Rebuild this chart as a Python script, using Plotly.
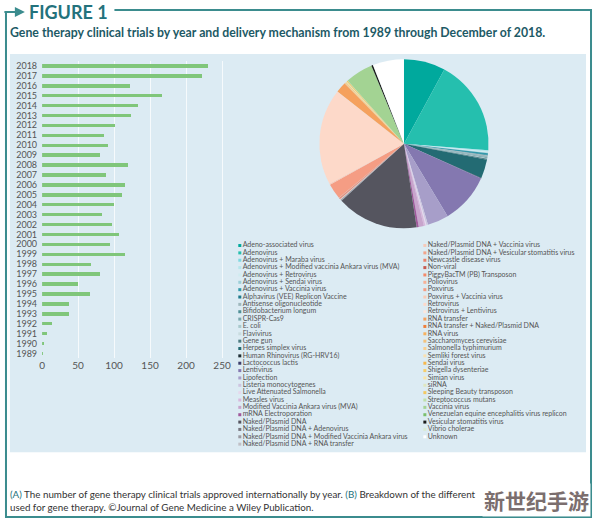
# plot.py  -  Figure 1: gene therapy clinical trials (bars by year + pie by vector)

import plotly.graph_objects as go

W, H = 594, 520

# --- data ---
YEARS = [str(y) for y in range(2018, 1988, -1)]
TRIALS = [230, 222, 122, 167, 134, 124, 101, 86, 91, 80,
          119, 89, 116, 111, 100, 84, 97, 107, 95, 116,
          68, 81, 50, 66, 37, 37, 14, 7, 2, 1]

VECTORS = [
    "Adeno-associated virus", "Adenovirus", "Adenovirus + Maraba virus",
    "Adenovirus + Modified vaccinia Ankara virus (MVA)", "Adenovirus + Retrovirus",
    "Adenovirus + Sendai virus", "Adenovirus + Vaccinia virus",
    "Alphavirus (VEE) Replicon Vaccine", "Antisense oligonucleotide",
    "Bifidobacterium longum", "CRISPR-Cas9", "E. coli", "Flavivirus", "Gene gun",
    "Herpes simplex virus", "Human Rhinovirus (RG-HRV16)", "Lactococcus lactis",
    "Lentivirus", "Lipofection", "Listeria monocytogenes", "Live Attenuated Salmonella",
    "Measles virus", "Modified Vaccinia Ankara virus (MVA)", "mRNA Electroporation",
    "Naked/Plasmid DNA", "Naked/Plasmid DNA + Adenovirus",
    "Naked/Plasmid DNA + Modified Vaccinia Ankara virus",
    "Naked/Plasmid DNA + RNA transfer",
    "Naked/Plasmid DNA + Vaccinia virus", "Naked/Plasmid DNA + Vesicular stomatitis virus",
    "Newcastle disease virus", "Non-viral", "PiggyBacTM (PB) Transposon", "Poliovirus",
    "Poxvirus", "Poxvirus + Vaccinia virus", "Retrovirus", "Retrovirus + Lentivirus",
    "RNA transfer", "RNA transfer + Naked/Plasmid DNA", "RNA virus",
    "Saccharomyces cerevisiae", "Salmonella typhimurium", "Semliki forest virus",
    "Sendai virus", "Shigella dysenteriae", "Simian virus", "siRNA",
    "Sleeping Beauty transposon", "Streptococcus mutans", "Vaccinia virus",
    "Venezuelan equine encephalitis virus replicon", "Vesicular stomatitis virus",
    "Vibrio cholerae", "Unknown",
]
SHARE = [8.0, 18.5, 0.1, 0.2, 0.2, 0.1, 0.3, 0.1, 0.3, 0.05, 0.2, 0.05, 0.05, 0.2,
         3.6, 0.05, 0.1, 9.7, 4.1, 0.3, 0.2, 0.3, 1.0, 0.4,
         15.8, 0.05, 0.2, 0.05, 0.1, 0.05, 0.1, 0.1, 0.05, 0.05,
         3.0, 0.2, 18.6, 0.05, 2.0, 0.05, 0.1, 0.05, 0.05, 0.05,
         0.1, 0.05, 0.05, 0.1, 0.2, 0.05, 5.3, 0.05, 0.3, 0.05, 6.0]

COLORS = [
    "#00a99d", "#25bfae", "#7fd8e0", "#b6e6ea", "#d0ecf0", "#9ccfd8", "#3399aa",
    "#1f7a8c", "#9fb8bd", "#4f8f96", "#7aa7ad", "#a9c9cc", "#c9dcdf", "#4e7b80",
    "#236b73", "#1e2e35", "#3d3f6b", "#8478b0", "#a79ec9", "#cdc5e0", "#e6d8ec",
    "#d8b7dc", "#c8a4cc", "#a0589b",
    "#55555f", "#777780", "#9a9aa2", "#c0c0c6", "#f6c9b8", "#f1a48a", "#e9826b",
    "#c85a50", "#f48a6a", "#f7b196", "#f59d84", "#fbc9b5", "#fdd9c9", "#fde7dc",
    "#f5a15d", "#f07f3a", "#f7b25f", "#f4c27c", "#f9cf8f", "#fbe0b0", "#f6b84d",
    "#f7cd6a", "#fbe3a3", "#e0e6c0", "#f3c860", "#bfe0a8", "#a3d393", "#7bbf6c",
    "#1a1a1a", "#d9ebd5", "#ffffff",
]

TEAL = "#23727c"
TEXT = "#555555"
FONT = "Lato"


def px(x):
    return x / W


def py(y):
    return 1 - y / H


fig = go.Figure()

# A: trials per year
fig.add_trace(go.Bar(
    x=TRIALS, y=YEARS, orientation="h", width=0.35,
    marker=dict(color="#80c67a", line=dict(width=0)),
    xaxis="x", yaxis="y", showlegend=False,
))

# B: delivery mechanism
fig.add_trace(go.Pie(
    labels=VECTORS, values=SHARE, sort=False, direction="clockwise",
    marker=dict(colors=COLORS, line=dict(width=0)),
    textinfo="none", showlegend=False,
    domain=dict(x=[px(318), px(488)], y=[py(228), py(58)]),
))

# legend of B, two columns
n_left = 28
cols = [VECTORS[:n_left], VECTORS[n_left:]]
col_colors = [COLORS[:n_left], COLORS[n_left:]]
for ci, (labels, cc) in enumerate(zip(cols, col_colors)):
    fig.add_trace(go.Scatter(
        x=[ci] * len(labels), y=list(range(len(labels))),
        mode="markers+text", text=labels, textposition="middle right",
        textfont=dict(family=FONT, size=7, color=TEXT),
        marker=dict(symbol="square", size=3, color=cc),
        cliponaxis=False,
        xaxis="x2", yaxis="y2", showlegend=False, hoverinfo="text",
    ))

shapes = [
    # light blue panel
    dict(type="rect", xref="paper", yref="paper", layer="below",
         x0=px(7), x1=px(586), y0=py(452), y1=py(53),
         fillcolor="#dcebf3", line=dict(width=0)),
    # frame
    dict(type="path", xref="paper", yref="paper",
         path=f"M {px(112)},{py(9)} L {px(591)},{py(9)} L {px(591)},{py(517)} "
              f"L {px(3)},{py(517)} L {px(3)},{py(11)}",
         line=dict(color="#3b8c8e", width=2)),
]

annotations = [
    dict(x=px(22), y=py(11), ax=-22, ay=0, xref="paper", yref="paper",
         text="", showarrow=True, arrowhead=2, arrowsize=1, arrowwidth=2,
         arrowcolor="#3b8c8e"),
    dict(x=px(24), y=py(11), xref="paper", yref="paper", xanchor="left",
         yanchor="middle", showarrow=False, text="<b>FIGURE 1</b>",
         font=dict(family=FONT, size=18, color=TEAL)),
    dict(x=px(5), y=py(32), xref="paper", yref="paper", xanchor="left",
         yanchor="middle", showarrow=False,
         text="<b>Gene therapy clinical trials by year and delivery mechanism "
              "from 1989 through December of 2018.</b>",
         font=dict(family=FONT, size=12.3, color="#1d5a66")),
    dict(x=px(5), y=py(494), xref="paper", yref="paper", xanchor="left",
         yanchor="middle", showarrow=False,
         text=f"<span style='color:{TEAL}'>(A)</span> The number of gene therapy "
              "clinical trials approved internationally by year. "
              f"<span style='color:{TEAL}'>(B)</span> Breakdown of the different",
         font=dict(family=FONT, size=9.8, color="#333333")),
    dict(x=px(5), y=py(507), xref="paper", yref="paper", xanchor="left",
         yanchor="middle", showarrow=False,
         text="used for gene therapy. \u00a9Journal of Gene Medicine a Wiley Publication.",
         font=dict(family=FONT, size=9.8, color="#333333")),
    dict(x=px(536), y=py(500), xref="paper", yref="paper", xanchor="center",
         yanchor="middle", showarrow=False, text="<b>新世纪手游</b>",
         font=dict(family="Noto Sans CJK SC", size=21, color="#7b6e6e"),
         bgcolor="rgba(255,255,255,0.9)"),
]

fig.update_layout(
    width=W, height=H,
    margin=dict(l=0, r=0, t=0, b=0),
    paper_bgcolor="white", plot_bgcolor="rgba(0,0,0,0)",
    font=dict(family=FONT, color=TEXT),
    bargap=0,
    shapes=shapes, annotations=annotations,
    xaxis=dict(domain=[px(39.3), px(231)], range=[0, 265], tickvals=[0, 50, 100, 150, 200, 250],
               showgrid=True, gridcolor="rgba(255,255,255,0.75)", gridwidth=1,
               zeroline=False, showline=False, ticks="",
               tickfont=dict(family=FONT, size=10, color=TEXT), anchor="y"),
    yaxis=dict(domain=[py(358), py(60)], type="category", autorange="reversed",
               tickmode="array", tickvals=YEARS, ticktext=YEARS,
               showgrid=False, zeroline=False, showline=False, ticks="",
               ticklabelstandoff=4,
               tickfont=dict(family=FONT, size=9, color=TEXT), anchor="x"),
    xaxis2=dict(domain=[px(238), px(424)], range=[0, 1], visible=False, anchor="y2"),
    yaxis2=dict(domain=[py(444), py(245)], range=[27, 0], visible=False, anchor="x2"),
)

# page body has a default 8px margin; drop it so the figure sits at the window corner
fig.write_html("out.html", config={"displayModeBar": False},
               post_script="document.body.style.margin='0px';")
